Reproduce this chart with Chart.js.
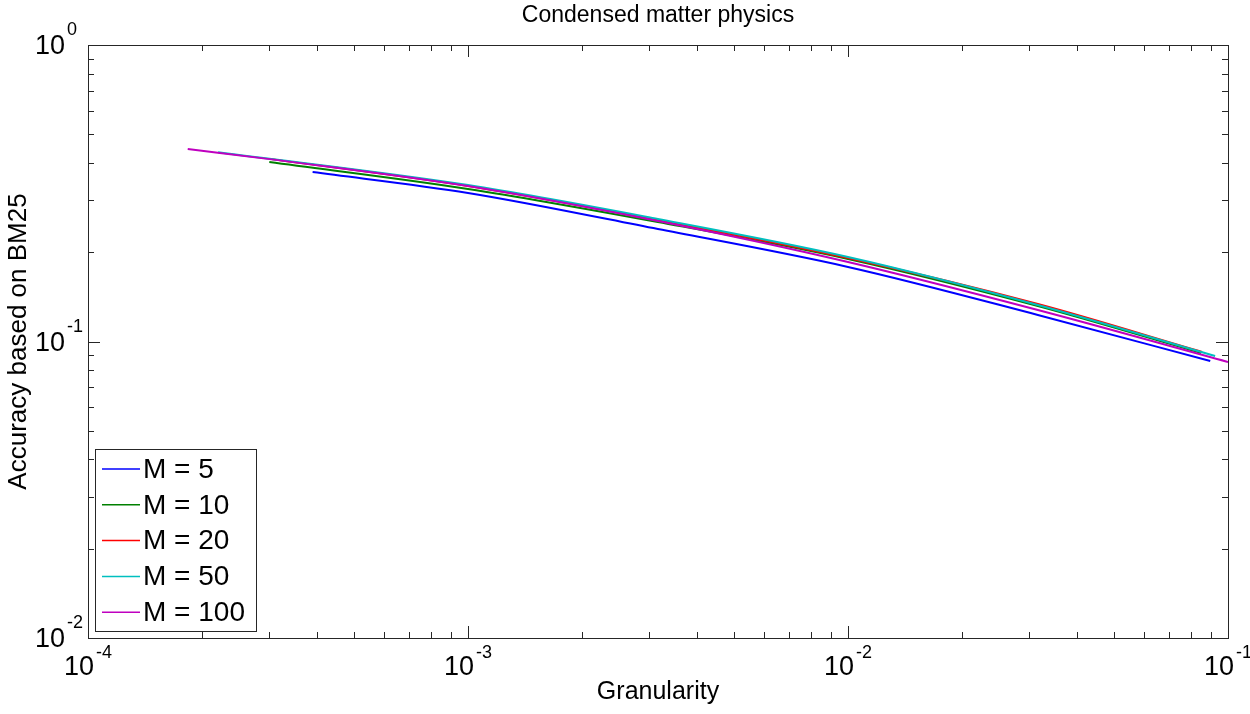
<!DOCTYPE html>
<html>
<head>
<meta charset="utf-8">
<script src="https://cdn.jsdelivr.net/npm/chart.js@4/dist/chart.umd.min.js"></script>
<style>
  body { margin: 0; background: #fff; }
  #wrap { width: 1250px; height: 714px; position: relative; }
</style>
</head>
<body>
<div id="wrap"><canvas id="chart"></canvas></div>
<script>
// =====================================
// DATA
// =====================================
const seriesLabels = ["M = 5", "M = 10", "M = 20", "M = 50", "M = 100"];
const seriesColors = ["#0000ff", "#008000", "#ff0000", "#00bfbf", "#bf00bf"];

const m5X = [3.9e-4, 1e-3, 3.16e-3, 1e-2, 3.16e-2, 0.0898];
const m5Y = [0.373, 0.317, 0.2395, 0.1784, 0.1229, 0.0859];

const m10X = [3.0e-4, 1e-3, 3.16e-3, 1e-2, 3.16e-2, 0.085];
const m10Y = [0.403, 0.327, 0.2529, 0.1898, 0.1317, 0.0915];

const m20X = [3.0e-4, 1e-3, 3.16e-3, 1e-2, 3.16e-2, 0.0855];
const m20Y = [0.413, 0.3345, 0.2569, 0.1913, 0.1338, 0.0922];

const m50X = [2.2e-4, 1e-3, 3.16e-3, 1e-2, 3.16e-2, 0.0925];
const m50Y = [0.435, 0.337, 0.2589, 0.1928, 0.1328, 0.0893];

const m100X = [1.83e-4, 3.16e-4, 1e-3, 3.16e-3, 1e-2, 3.16e-2, 0.1];
const m100Y = [0.446, 0.409, 0.3345, 0.2549, 0.1854, 0.1277, 0.0853];

const xTickExps = [-4, -3, -2, -1];
const yTickExps = [-2, -1, 0];

const titleText = "Condensed matter physics";
const xTitle = "Granularity";
const yTitle = "Accuracy based on BM25";

const FONT = "'Liberation Sans', Arial, sans-serif";
const AXIS_COLOR = "#262626";

function toPoints(xs, ys) {
  return xs.map((x, i) => ({ x: x, y: ys[i] }));
}

const allX = [m5X, m10X, m20X, m50X, m100X];
const allY = [m5Y, m10Y, m20Y, m50Y, m100Y];

const datasets = seriesLabels.map((label, i) => ({
  label: label,
  data: toPoints(allX[i], allY[i]),
  borderColor: seriesColors[i],
  backgroundColor: seriesColors[i],
  borderWidth: 2,
  pointRadius: 0,
  cubicInterpolationMode: "monotone",
  fill: false,
  order: seriesLabels.length - i
}));

// =====================================
// MATLAB-STYLE AXES, LABELS AND LEGEND
// =====================================
function expText(e) { return String(e); }

const matlabAxes = {
  id: "matlabAxes",
  afterDatasetsDraw(chart) {
    const ctx = chart.ctx;
    const a = chart.chartArea;
    const xs = chart.scales.x;
    const ys = chart.scales.y;

    ctx.save();
    ctx.strokeStyle = AXIS_COLOR;
    ctx.lineWidth = 1;

    // box
    ctx.strokeRect(Math.round(a.left) + 0.5, Math.round(a.top) + 0.5,
      Math.round(a.right - a.left), Math.round(a.bottom - a.top));

    // ticks (inward, all four sides)
    const majLen = 12, minLen = 6;
    ctx.beginPath();
    for (let e = -4; e <= -1; e++) {
      for (let m = 1; m <= 9; m++) {
        const v = m * Math.pow(10, e);
        if (v < 1e-4 * 0.999 || v > 0.1 * 1.001) continue;
        const px = Math.round(xs.getPixelForValue(v)) + 0.5;
        const len = m === 1 ? majLen : minLen;
        ctx.moveTo(px, a.bottom); ctx.lineTo(px, a.bottom - len);
        ctx.moveTo(px, a.top); ctx.lineTo(px, a.top + len);
      }
    }
    for (let e = -2; e <= 0; e++) {
      for (let m = 1; m <= 9; m++) {
        const v = m * Math.pow(10, e);
        if (v < 0.01 * 0.999 || v > 1.001) continue;
        const py = Math.round(ys.getPixelForValue(v)) + 0.5;
        const len = m === 1 ? majLen : minLen;
        ctx.moveTo(a.left, py); ctx.lineTo(a.left + len, py);
        ctx.moveTo(a.right, py); ctx.lineTo(a.right - len, py);
      }
    }
    ctx.stroke();

    // tick labels with superscript exponents
    ctx.fillStyle = "#000";
    ctx.textBaseline = "alphabetic";
    const bigFont = "27px " + FONT;
    const smallFont = "18px " + FONT;

    xTickExps.forEach(e => {
      const px = xs.getPixelForValue(Math.pow(10, e));
      ctx.font = bigFont;
      const w10 = ctx.measureText("10").width;
      ctx.font = smallFont;
      const wE = ctx.measureText(expText(e)).width;
      const left = px - (w10 + 2 + wE) / 2;
      ctx.font = bigFont;
      ctx.textAlign = "left";
      ctx.fillText("10", left, a.bottom + 37);
      ctx.font = smallFont;
      ctx.fillText(expText(e), left + w10 + 2, a.bottom + 20);
    });

    yTickExps.forEach(e => {
      const py = ys.getPixelForValue(Math.pow(10, e));
      ctx.font = bigFont;
      ctx.textAlign = "right";
      ctx.fillText("10", a.left - 23, py + 9);
      ctx.font = smallFont;
      ctx.textAlign = "left";
      ctx.fillText(expText(e), a.left - 21, py - 10);
    });

    // titles
    const cx = (a.left + a.right) / 2;
    ctx.textAlign = "center";
    ctx.textBaseline = "middle";
    ctx.font = "23px " + FONT;
    ctx.fillText(titleText, cx, 16);
    ctx.font = "25px " + FONT;
    ctx.fillText(xTitle, cx, 692);
    ctx.save();
    ctx.translate(19, (a.top + a.bottom) / 2);
    ctx.rotate(-Math.PI / 2);
    ctx.font = "26px " + FONT;
    ctx.fillText(yTitle, 0, 0);
    ctx.restore();

    // legend box (lower left, inside the axes)
    const lx = a.left + 7, ly = a.top + 404, lw = 161, lh = 182;
    ctx.fillStyle = "#fff";
    ctx.fillRect(lx, ly, lw, lh);
    ctx.strokeStyle = AXIS_COLOR;
    ctx.strokeRect(lx + 0.5, ly + 0.5, lw, lh);
    ctx.font = "28px " + FONT;
    ctx.textAlign = "left";
    ctx.textBaseline = "middle";
    chart.data.datasets.forEach((ds, i) => {
      const ry = ly + 20 + i * 35.8;
      ctx.strokeStyle = ds.borderColor;
      ctx.lineWidth = 1.5;
      ctx.beginPath();
      ctx.moveTo(lx + 7, ry);
      ctx.lineTo(lx + 45, ry);
      ctx.stroke();
      ctx.fillStyle = "#000";
      ctx.fillText(ds.label, lx + 48, ry + 1);
    });

    ctx.restore();
  }
};

// =====================================
// CHART
// =====================================
new Chart(document.getElementById("chart"), {
  type: "line",
  data: { datasets: datasets },
  options: {
    responsive: true,
    maintainAspectRatio: false,
    animation: false,
    layout: { padding: { left: 88, right: 22, top: 45, bottom: 76 } },
    plugins: {
      legend: { display: false },
      title: { display: false },
      tooltip: { enabled: false }
    },
    scales: {
      x: { type: "logarithmic", min: 1e-4, max: 0.1, display: false },
      y: { type: "logarithmic", min: 0.01, max: 1, display: false }
    }
  },
  plugins: [matlabAxes]
});
</script>
</body>
</html>
